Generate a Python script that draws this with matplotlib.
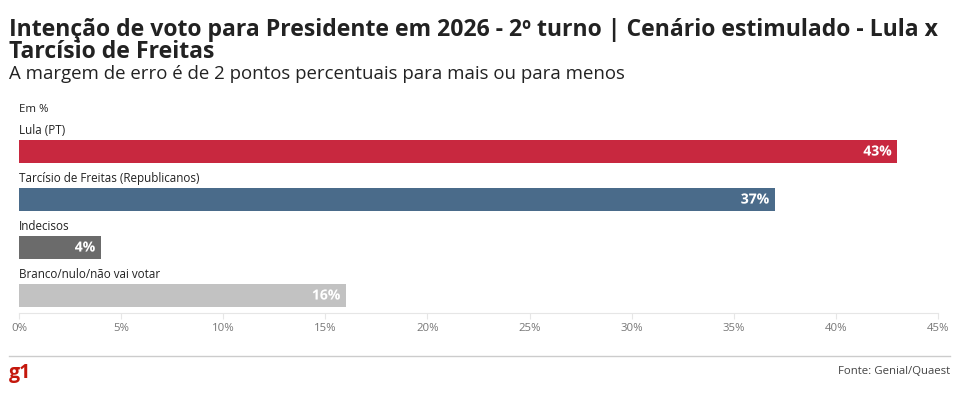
import matplotlib.pyplot as plt
import matplotlib.patheffects as pe

categorias = ["Lula (PT)", "Tarcísio de Freitas (Republicanos)", "Indecisos", "Branco/nulo/não vai votar"]
valores = [43, 37, 4, 16]
cores = ["#C8283F", "#4A6B8A", "#6B6B6B", "#C2C2C2"]
ticks = [0, 5, 10, 15, 20, 25, 30, 35, 40, 45]

plt.rcParams['font.family'] = ['Open Sans', 'DejaVu Sans']

W, H = 960, 397
fig = plt.figure(figsize=(W / 100, H / 100), dpi=100)

# eixo: 0% em x=19px, 45% em x=938px; de y=130px a y=313px
ax = fig.add_axes([19 / W, 1 - 313 / H, (938 - 19) / W, (313 - 130) / H])
pos = list(range(len(categorias)))
ax.barh(pos, valores, height=0.48, color=cores)
ax.set_xlim(0, 45)
ax.set_ylim(3 + 17.5 / 48, -21.5 / 48)

for i, (cat, v) in enumerate(zip(categorias, valores)):
    ax.annotate(cat, xy=(0, i - 0.24), xytext=(0, 2), textcoords="offset points",
                ha="left", va="bottom", fontsize=8.4, color="#222222")
    ax.annotate(f"{v}%", xy=(v, i), xytext=(-4, 0), textcoords="offset points",
                ha="right", va="center", fontsize=10, fontweight="bold", color="white",
                path_effects=[pe.withStroke(linewidth=2, foreground=cores[i], alpha=0.6)])

for s in ["top", "right", "left"]:
    ax.spines[s].set_visible(False)
ax.spines["bottom"].set_color("#e6e6e6")
ax.set_yticks([])
ax.set_xticks(ticks)
ax.set_xticklabels([f"{t}%" for t in ticks])
ax.tick_params(axis="x", colors="#e6e6e6", labelcolor="#777777", labelsize=8.2, length=4, pad=3)

fig.text(9 / W, 1 - 30 / H, "Intenção de voto para Presidente em 2026 - 2º turno | Cenário estimulado - Lula x",
         fontsize=16.6, fontweight="bold", color="#222222", va="center")
fig.text(9 / W, 1 - 52 / H, "Tarcísio de Freitas", fontsize=16.6, fontweight="bold", color="#222222", va="center")
fig.text(9 / W, 1 - 74 / H, "A margem de erro é de 2 pontos percentuais para mais ou para menos",
         fontsize=13.4, color="#222222", va="center")
fig.text(19 / W, 1 - 109 / H, "Em %", fontsize=8.2, color="#222222", va="center")

fig.add_artist(plt.Line2D([9 / W, 950 / W], [1 - 356 / H, 1 - 356 / H], color="#cccccc", lw=1))
fig.text(9 / W, 1 - 373 / H, "g1", fontsize=14, fontweight="bold", color="#C4170C", va="center")
fig.text(950 / W, 1 - 371 / H, "Fonte: Genial/Quaest", fontsize=8.2, color="#444444", va="center", ha="right")

fig.savefig("out.png", dpi=100)
